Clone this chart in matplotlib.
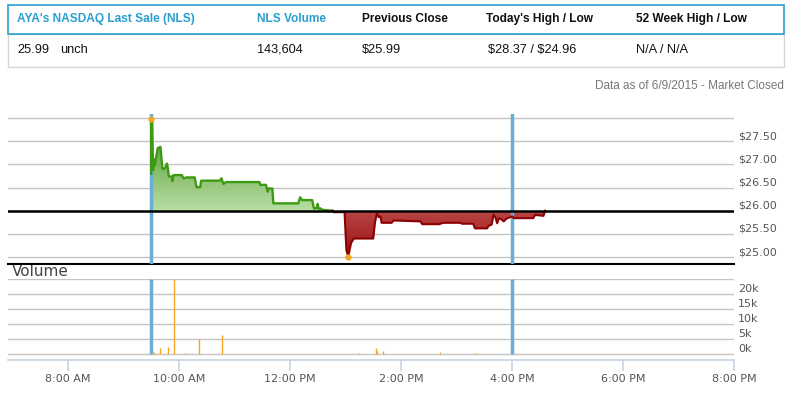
import matplotlib
matplotlib.use('Agg')
import matplotlib.pyplot as plt
import numpy as np
from matplotlib.patches import Rectangle
from matplotlib.colors import LinearSegmentedColormap

# 데이터
prev_close = 25.99

price_times = ["9:30", "9:30", "9:31", "9:32", "9:33", "9:34", "9:35", "9:37", "9:40",
               "9:42", "9:43", "9:45", "9:47", "9:48", "9:49", "9:52", "9:53", "9:54",
               "10:03", "10:05", "10:08", "10:17", "10:19", "10:23", "10:24", "10:44",
               "10:46", "10:48", "10:51", "11:27", "11:28", "11:34", "11:36", "11:37",
               "11:41", "11:42", "12:09", "12:11", "12:13", "12:24", "12:26", "12:29",
               "12:30", "12:31", "12:33", "12:35", "12:46",
               "12:47", "12:59", "13:01", "13:03", "13:06", "13:09", "13:30", "13:32",
               "13:34", "13:36", "13:38", "13:39", "13:50", "13:52", "14:21", "14:23",
               "14:41", "14:46", "15:04", "15:06", "15:18", "15:20", "15:33", "15:35",
               "15:38", "15:40", "15:42", "15:44", "15:46", "15:49", "15:51", "15:54",
               "15:58", "16:00", "16:02", "16:23", "16:25", "16:34", "16:36"]
price_values = [26.80, 27.98, 27.95, 26.88, 27.11, 26.99, 27.11, 27.35, 27.38,
                26.92, 26.90, 26.92, 27.02, 26.92, 26.74, 26.74, 26.64, 26.77,
                26.77, 26.70, 26.72, 26.72, 26.51, 26.51, 26.65, 26.65,
                26.70, 26.58, 26.62, 26.62, 26.56, 26.56, 26.41, 26.48,
                26.48, 26.16, 26.16, 26.29, 26.23, 26.23, 26.05, 26.06,
                26.15, 26.04, 26.05, 26.02, 26.00,
                25.97, 25.97, 25.15, 25.01, 25.30, 25.40, 25.40, 25.76,
                25.94, 25.86, 25.88, 25.74, 25.74, 25.79, 25.77, 25.71,
                25.71, 25.74, 25.74, 25.72, 25.72, 25.62, 25.62, 25.68,
                25.70, 25.91, 25.86, 25.73, 25.84, 25.81, 25.77, 25.83,
                25.86, 25.88, 25.84, 25.84, 25.91, 25.89, 26.00]
split_time = "12:47"
high_point = ("9:30", 27.98)
low_point = ("13:03", 25.01)

vol_times = ["9:30", "9:33", "9:40", "9:48", "9:55", "10:06", "10:22", "10:46",
             "13:15", "13:33", "13:34", "13:41", "14:42", "15:21"]
vol_values = [700, 700, 2000, 2300, 25000, 500, 5000, 6300,
              300, 2000, 1000, 1100, 800, 400]

session_times = ["9:30", "16:00"]

hour_ticks = [8, 10, 12, 14, 16, 18, 20]
hour_labels = ['8:00 AM', '10:00 AM', '12:00 PM', '2:00 PM', '4:00 PM', '6:00 PM', '8:00 PM']
price_ticks = [25.0, 25.5, 26.0, 26.5, 27.0, 27.5, 28.0]
price_labels = ['$25.00', '$25.50', '$26.00', '$26.50', '$27.00', '$27.50', '']
vol_ticks = [0, 5000, 10000, 15000, 20000, 25000]
vol_labels = ['0k', '5k', '10k', '15k', '20k', '']

header_labels = ["AYA's NASDAQ Last Sale (NLS)", "NLS Volume", "Previous Close",
                 "Today's High / Low", "52 Week High / Low"]
header_values = ["25.99", "143,604", "$25.99", "$28.37 / $24.96", "N/A / N/A"]
change_text = "unch"
status_text = "Data as of 6/9/2015 - Market Closed"


def to_hours(t):
    h, m = t.split(':')
    return int(h) + int(m) / 60


def gradient_fill(ax, x, y, base, top_color, bottom_color):
    poly = ax.fill_between(x, y, base, color='none', lw=0)
    path = poly.get_paths()[0]
    poly.remove()
    ymin, ymax = min(y.min(), base), max(y.max(), base)
    cmap = LinearSegmentedColormap.from_list('grad', [bottom_color, top_color])
    grad = np.linspace(0, 1, 256).reshape(-1, 1)
    im = ax.imshow(grad, cmap=cmap, aspect='auto', origin='lower',
                   extent=[x.min(), x.max(), ymin, ymax], zorder=2)
    im.set_clip_path(path, ax.transData)


px = np.array([to_hours(t) for t in price_times])
py = np.array(price_values)
k = price_times.index(split_time)
vx = np.array([to_hours(t) for t in vol_times])
sx = [to_hours(t) for t in session_times]

W, H = 792, 393
fig = plt.figure(figsize=(W / 100, H / 100), dpi=100)

# 상단 표 (픽셀 좌표)
hdr = fig.add_axes([0, 0, 1, 1])
hdr.set_xlim(0, W)
hdr.set_ylim(H, 0)
hdr.axis('off')
teal = '#2a9fcf'
hdr.add_patch(Rectangle((8, 34), 776, 33, fill=False, edgecolor='#d6d6d6', lw=1))
hdr.add_patch(Rectangle((8, 5), 776, 29, fill=False, edgecolor=teal, lw=1.2))
col_x = [17, 257, 362, 486, 636]
for i, (lab, val) in enumerate(zip(header_labels, header_values)):
    c = teal if i < 2 else '#111111'
    hdr.text(col_x[i], 19, lab, fontsize=8.6, fontweight='bold', color=c,
             family='Liberation Sans', va='center', ha='left', parse_math=False)
    vx0 = col_x[i] + (2 if i == 3 else 0)
    hdr.text(vx0, 50, val, fontsize=9.2, color='#111111',
             family='Liberation Sans', va='center', ha='left', parse_math=False)
hdr.text(60, 50, change_text, fontsize=9.2, color='#111111',
         family='Liberation Sans', va='center', ha='left')
hdr.text(784, 86, status_text, fontsize=8.5, color='#777777',
         family='Liberation Sans', va='center', ha='right')
hdr.text(12, 271, 'Volume', fontsize=11, color='#444444', va='center', ha='left')

L, R = 8 / W, 734 / W
xlim = (6.92, 20.0)
blue = '#6aaed6'
grid_c = '#c4c4c4'
lab_c = '#555555'

# 가격 패널
ax = fig.add_axes([L, 1 - 264 / H, R - L, 150 / H])
ax.set_facecolor('none')
gradient_fill(ax, px[:k], py[:k], prev_close, '#3f9018', '#b9dea5')
gradient_fill(ax, px[k - 1:], py[k - 1:], prev_close, '#b84444', '#9a1212')
ax.plot(px[:k], py[:k], color='#3d9a12', lw=1.7, zorder=4)
ax.plot(px[k - 1:], py[k - 1:], color='#8b0000', lw=1.5, zorder=4)
ax.plot([to_hours(high_point[0]), to_hours(low_point[0])], [high_point[1], low_point[1]],
        'o', color='#f5a623', ms=3.5, zorder=5)
for s in sx:
    ax.axvline(s, color=blue, lw=2.5, zorder=3)
ax.axhline(prev_close, color='black', lw=1.8, zorder=5)
ax.set_xlim(*xlim)
ax.set_ylim(24.85, 28.09)
ax.set_yticks(price_ticks)
ax.set_yticklabels(price_labels)
ax.yaxis.tick_right()
ax.tick_params(axis='y', length=0, pad=3, labelsize=8, labelcolor=lab_c)
for t in ax.get_yticklabels():
    t.set_va('bottom')
ax.set_xticks([])
ax.grid(axis='y', color=grid_c, lw=1)
ax.set_axisbelow(True)
for sp in ['top', 'left', 'right']:
    ax.spines[sp].set_visible(False)
ax.spines['bottom'].set_color('black')
ax.spines['bottom'].set_linewidth(1.5)

# 거래량 패널
av = fig.add_axes([L, 1 - 360 / H, R - L, 81 / H])
av.set_facecolor('none')
av.vlines(vx, 0, vol_values, color='#f5a623', lw=1, zorder=2)
av.vlines(sx, 0, 25000, color=blue, lw=2.5, zorder=3)
av.set_xlim(*xlim)
av.set_ylim(-2000, 25050)
av.set_yticks(vol_ticks)
av.set_yticklabels(vol_labels)
av.yaxis.tick_right()
av.tick_params(axis='y', length=0, pad=3, labelsize=8, labelcolor=lab_c)
for t in av.get_yticklabels():
    t.set_va('bottom')
av.set_xticks(hour_ticks)
av.set_xticklabels(hour_labels)
av.tick_params(axis='x', direction='out', length=8, width=1.2, color='#c6d4e2',
               labelsize=8, labelcolor=lab_c, pad=2)
av.grid(axis='y', color=grid_c, lw=1)
av.set_axisbelow(True)
for sp in ['top', 'left', 'right']:
    av.spines[sp].set_visible(False)
av.spines['bottom'].set_color('#c6d4e2')
av.spines['bottom'].set_linewidth(1.2)

fig.savefig('out.png', dpi=100)
